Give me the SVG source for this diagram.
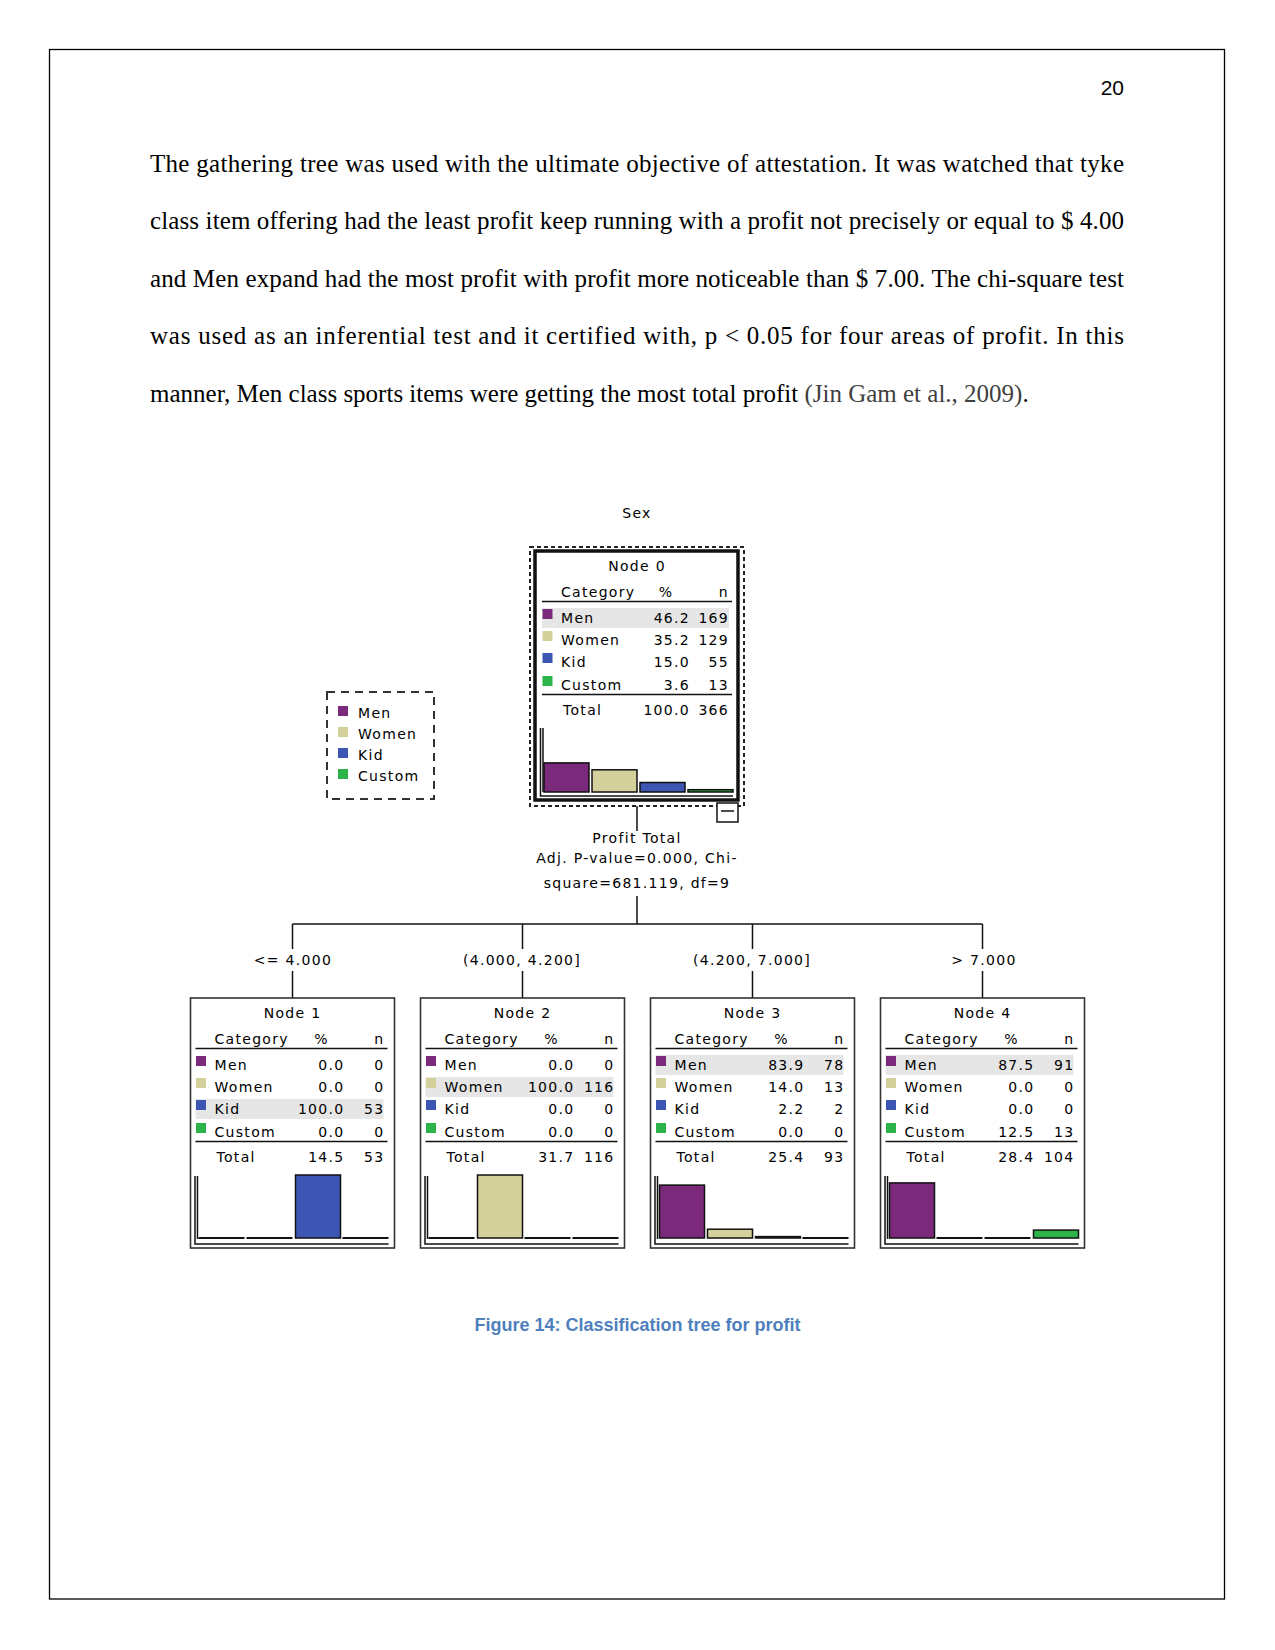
<svg xmlns="http://www.w3.org/2000/svg" width="1275" height="1650" viewBox="0 0 1275 1650">
<style>
.body{font-family:"Liberation Serif","Times New Roman",serif;font-size:25px;fill:#000}
.t{font-family:"DejaVu Sans",Verdana,sans-serif;font-size:14px;letter-spacing:1.3px;fill:#000}
.e{text-anchor:end}
.m{text-anchor:middle}
.men{fill:#7b2a7b}
.wom{fill:#d4d09b}
.kid{fill:#3d55b3}
.cus{fill:#2cb34a}
.bar{stroke:#111;stroke-width:1.5}
.hl{fill:#e6e6e6}
.ln{stroke:#111;stroke-width:1.5;fill:none}
.zl{stroke:#111;stroke-width:2}
.box{fill:#fff;stroke:#333;stroke-width:1.6}
.conn{stroke:#111;stroke-width:1.5;fill:none}
</style>
<rect x="0" y="0" width="1275" height="1650" fill="#fff"/>
<rect x="49.5" y="49.5" width="1175" height="1549.5" fill="none" stroke="#000" stroke-width="1.3"/>
<text x="1124" y="95" text-anchor="end" style="font-family:'Liberation Sans',Arial,sans-serif;font-size:21px">20</text>

<g id="paragraph">
<text class="body" x="150" y="172" textLength="974" lengthAdjust="spacing">The gathering tree was used with the ultimate objective of attestation. It was watched that tyke</text>
<text class="body" x="150" y="229" textLength="974" lengthAdjust="spacing">class item offering had the least profit keep running with a profit not precisely or equal to $ 4.00</text>
<text class="body" x="150" y="287" textLength="974" lengthAdjust="spacing">and Men expand had the most profit with profit more noticeable than $ 7.00. The chi-square test</text>
<text class="body" x="150" y="344" textLength="974" lengthAdjust="spacing">was used as an inferential test and it certified with, p &lt; 0.05 for four areas of profit. In this</text>
<text class="body" x="150" y="402">manner, Men class sports items were getting the most total profit <tspan fill="#404040">(Jin Gam et al., 2009)</tspan>.</text>
</g>

<text class="t m" x="637" y="518">Sex</text>

<g id="legend">
<rect x="327" y="692" width="107" height="107" fill="none" stroke="#333" stroke-width="2" stroke-dasharray="8 6"/>
<rect class="men" x="338" y="706" width="10" height="10"/>
<rect class="wom" x="338" y="727" width="10" height="10"/>
<rect class="kid" x="338" y="748" width="10" height="10"/>
<rect class="cus" x="338" y="769" width="10" height="10"/>
<text class="t" x="358" y="718">Men</text>
<text class="t" x="358" y="739">Women</text>
<text class="t" x="358" y="760">Kid</text>
<text class="t" x="358" y="781">Custom</text>
</g>

<g id="connectors">
<path class="conn" d="M637,806 V831"/>
<path class="conn" d="M637,896 V924"/>
<path class="conn" d="M292.5,924 H982.5"/>
<path class="conn" d="M292.5,924 V949 M522.5,924 V949 M752.5,924 V949 M982.5,924 V949"/>
<path class="conn" d="M292.5,971 V998 M522.5,971 V998 M752.5,971 V998 M982.5,971 V998"/>
<text class="t m" x="637" y="843">Profit Total</text>
<text class="t m" x="637" y="863">Adj. P-value=0.000, Chi-</text>
<text class="t m" x="637" y="888">square=681.119, df=9</text>
<text class="t m" x="293" y="965">&lt;= 4.000</text>
<text class="t m" x="522" y="965">(4.000, 4.200]</text>
<text class="t m" x="752" y="965">(4.200, 7.000]</text>
<text class="t m" x="984" y="965">&gt; 7.000</text>
</g>

<g id="node0">
<rect x="530" y="547" width="214" height="259" fill="none" stroke="#222" stroke-width="2" stroke-dasharray="4 3"/>
<g transform="translate(535,551)">
<rect x="0" y="0" width="203" height="249" fill="#fff" stroke="#111" stroke-width="3.5"/>
<rect class="hl" x="7" y="57" width="187" height="20"/>
<text class="t m" x="102" y="20">Node 0</text>
<text class="t" x="26" y="46">Category</text><text class="t m" x="131" y="46">%</text><text class="t e" x="194" y="46">n</text>
<line class="ln" x1="7" y1="50.5" x2="197" y2="50.5"/>
<rect class="men" x="7.5" y="58" width="10" height="10"/>
<rect class="wom" x="7.5" y="80" width="10" height="10"/>
<rect class="kid" x="7.5" y="102" width="10" height="10"/>
<rect class="cus" x="7.5" y="125" width="10" height="10"/>
<text class="t" x="26" y="72">Men</text><text class="t e" x="155" y="72">46.2</text><text class="t e" x="194" y="72">169</text>
<text class="t" x="26" y="94">Women</text><text class="t e" x="155" y="94">35.2</text><text class="t e" x="194" y="94">129</text>
<text class="t" x="26" y="116">Kid</text><text class="t e" x="155" y="116">15.0</text><text class="t e" x="194" y="116">55</text>
<text class="t" x="26" y="139">Custom</text><text class="t e" x="155" y="139">3.6</text><text class="t e" x="194" y="139">13</text>
<line class="ln" x1="7" y1="143.5" x2="197" y2="143.5"/>
<text class="t" x="28" y="164">Total</text><text class="t e" x="155" y="164">100.0</text><text class="t e" x="194" y="164">366</text>
<path class="ln" d="M5.5,177 V245 H198"/>
<path class="ln" d="M8,177 V241"/>
<rect class="men bar" x="9" y="211.9" width="45" height="29.1"/>
<rect class="wom bar" x="57" y="218.8" width="45" height="22.2"/>
<rect class="kid bar" x="105" y="231.5" width="45" height="9.5"/>
<rect class="cus bar" x="153" y="238.7" width="45" height="2.3"/>
</g>
<rect x="717" y="803" width="21" height="19" fill="#fff" stroke="#111" stroke-width="1.5"/>
<line x1="721" y1="811" x2="734" y2="811" stroke="#111" stroke-width="1.5"/>
</g>

<g id="node1" transform="translate(190.5,998)">
<rect class="box" x="0" y="0" width="204" height="250"/>
<rect class="hl" x="5" y="101" width="188" height="20"/>
<text class="t m" x="102" y="20">Node 1</text>
<text class="t" x="24" y="46">Category</text><text class="t m" x="131" y="46">%</text><text class="t e" x="194" y="46">n</text>
<line class="ln" x1="5" y1="50.5" x2="197" y2="50.5"/>
<rect class="men" x="5.5" y="58" width="10" height="10"/>
<rect class="wom" x="5.5" y="80" width="10" height="10"/>
<rect class="kid" x="5.5" y="102" width="10" height="10"/>
<rect class="cus" x="5.5" y="125" width="10" height="10"/>
<text class="t" x="24" y="72">Men</text><text class="t e" x="154" y="72">0.0</text><text class="t e" x="194" y="72">0</text>
<text class="t" x="24" y="94">Women</text><text class="t e" x="154" y="94">0.0</text><text class="t e" x="194" y="94">0</text>
<text class="t" x="24" y="116">Kid</text><text class="t e" x="154" y="116">100.0</text><text class="t e" x="194" y="116">53</text>
<text class="t" x="24" y="139">Custom</text><text class="t e" x="154" y="139">0.0</text><text class="t e" x="194" y="139">0</text>
<line class="ln" x1="5" y1="143.5" x2="197" y2="143.5"/>
<text class="t" x="26" y="164">Total</text><text class="t e" x="154" y="164">14.5</text><text class="t e" x="194" y="164">53</text>
<path class="ln" d="M4.5,178 V246 H198"/>
<path class="ln" d="M7,178 V241"/>
<line class="zl" x1="8" y1="240" x2="54" y2="240"/>
<line class="zl" x1="56" y1="240" x2="102" y2="240"/>
<rect class="kid bar" x="105" y="177" width="45" height="63"/>
<line class="zl" x1="152" y1="240" x2="198" y2="240"/>
</g>

<g id="node2" transform="translate(420.5,998)">
<rect class="box" x="0" y="0" width="204" height="250"/>
<rect class="hl" x="5" y="79" width="188" height="20"/>
<text class="t m" x="102" y="20">Node 2</text>
<text class="t" x="24" y="46">Category</text><text class="t m" x="131" y="46">%</text><text class="t e" x="194" y="46">n</text>
<line class="ln" x1="5" y1="50.5" x2="197" y2="50.5"/>
<rect class="men" x="5.5" y="58" width="10" height="10"/>
<rect class="wom" x="5.5" y="80" width="10" height="10"/>
<rect class="kid" x="5.5" y="102" width="10" height="10"/>
<rect class="cus" x="5.5" y="125" width="10" height="10"/>
<text class="t" x="24" y="72">Men</text><text class="t e" x="154" y="72">0.0</text><text class="t e" x="194" y="72">0</text>
<text class="t" x="24" y="94">Women</text><text class="t e" x="154" y="94">100.0</text><text class="t e" x="194" y="94">116</text>
<text class="t" x="24" y="116">Kid</text><text class="t e" x="154" y="116">0.0</text><text class="t e" x="194" y="116">0</text>
<text class="t" x="24" y="139">Custom</text><text class="t e" x="154" y="139">0.0</text><text class="t e" x="194" y="139">0</text>
<line class="ln" x1="5" y1="143.5" x2="197" y2="143.5"/>
<text class="t" x="26" y="164">Total</text><text class="t e" x="154" y="164">31.7</text><text class="t e" x="194" y="164">116</text>
<path class="ln" d="M4.5,178 V246 H198"/>
<path class="ln" d="M7,178 V241"/>
<line class="zl" x1="8" y1="240" x2="54" y2="240"/>
<rect class="wom bar" x="57" y="177" width="45" height="63"/>
<line class="zl" x1="104" y1="240" x2="150" y2="240"/>
<line class="zl" x1="152" y1="240" x2="198" y2="240"/>
</g>

<g id="node3" transform="translate(650.5,998)">
<rect class="box" x="0" y="0" width="204" height="250"/>
<rect class="hl" x="5" y="57" width="188" height="20"/>
<text class="t m" x="102" y="20">Node 3</text>
<text class="t" x="24" y="46">Category</text><text class="t m" x="131" y="46">%</text><text class="t e" x="194" y="46">n</text>
<line class="ln" x1="5" y1="50.5" x2="197" y2="50.5"/>
<rect class="men" x="5.5" y="58" width="10" height="10"/>
<rect class="wom" x="5.5" y="80" width="10" height="10"/>
<rect class="kid" x="5.5" y="102" width="10" height="10"/>
<rect class="cus" x="5.5" y="125" width="10" height="10"/>
<text class="t" x="24" y="72">Men</text><text class="t e" x="154" y="72">83.9</text><text class="t e" x="194" y="72">78</text>
<text class="t" x="24" y="94">Women</text><text class="t e" x="154" y="94">14.0</text><text class="t e" x="194" y="94">13</text>
<text class="t" x="24" y="116">Kid</text><text class="t e" x="154" y="116">2.2</text><text class="t e" x="194" y="116">2</text>
<text class="t" x="24" y="139">Custom</text><text class="t e" x="154" y="139">0.0</text><text class="t e" x="194" y="139">0</text>
<line class="ln" x1="5" y1="143.5" x2="197" y2="143.5"/>
<text class="t" x="26" y="164">Total</text><text class="t e" x="154" y="164">25.4</text><text class="t e" x="194" y="164">93</text>
<path class="ln" d="M4.5,178 V246 H198"/>
<path class="ln" d="M7,178 V241"/>
<rect class="men bar" x="9" y="187.1" width="45" height="52.9"/>
<rect class="wom bar" x="57" y="231.2" width="45" height="8.8"/>
<rect class="kid bar" x="105" y="238.6" width="45" height="1.4"/>
<line class="zl" x1="152" y1="240" x2="198" y2="240"/>
</g>

<g id="node4" transform="translate(880.5,998)">
<rect class="box" x="0" y="0" width="204" height="250"/>
<rect class="hl" x="5" y="57" width="188" height="20"/>
<text class="t m" x="102" y="20">Node 4</text>
<text class="t" x="24" y="46">Category</text><text class="t m" x="131" y="46">%</text><text class="t e" x="194" y="46">n</text>
<line class="ln" x1="5" y1="50.5" x2="197" y2="50.5"/>
<rect class="men" x="5.5" y="58" width="10" height="10"/>
<rect class="wom" x="5.5" y="80" width="10" height="10"/>
<rect class="kid" x="5.5" y="102" width="10" height="10"/>
<rect class="cus" x="5.5" y="125" width="10" height="10"/>
<text class="t" x="24" y="72">Men</text><text class="t e" x="154" y="72">87.5</text><text class="t e" x="194" y="72">91</text>
<text class="t" x="24" y="94">Women</text><text class="t e" x="154" y="94">0.0</text><text class="t e" x="194" y="94">0</text>
<text class="t" x="24" y="116">Kid</text><text class="t e" x="154" y="116">0.0</text><text class="t e" x="194" y="116">0</text>
<text class="t" x="24" y="139">Custom</text><text class="t e" x="154" y="139">12.5</text><text class="t e" x="194" y="139">13</text>
<line class="ln" x1="5" y1="143.5" x2="197" y2="143.5"/>
<text class="t" x="26" y="164">Total</text><text class="t e" x="154" y="164">28.4</text><text class="t e" x="194" y="164">104</text>
<path class="ln" d="M4.5,178 V246 H198"/>
<path class="ln" d="M7,178 V241"/>
<rect class="men bar" x="9" y="184.9" width="45" height="55.1"/>
<line class="zl" x1="56" y1="240" x2="102" y2="240"/>
<line class="zl" x1="104" y1="240" x2="150" y2="240"/>
<rect class="cus bar" x="153" y="232.1" width="45" height="7.9"/>
</g>

<text x="637.5" y="1331" text-anchor="middle" style="font-family:'Liberation Sans',Arial,sans-serif;font-size:18px;font-weight:bold;fill:#4f7fbd">Figure 14: Classification tree for profit</text>
</svg>
